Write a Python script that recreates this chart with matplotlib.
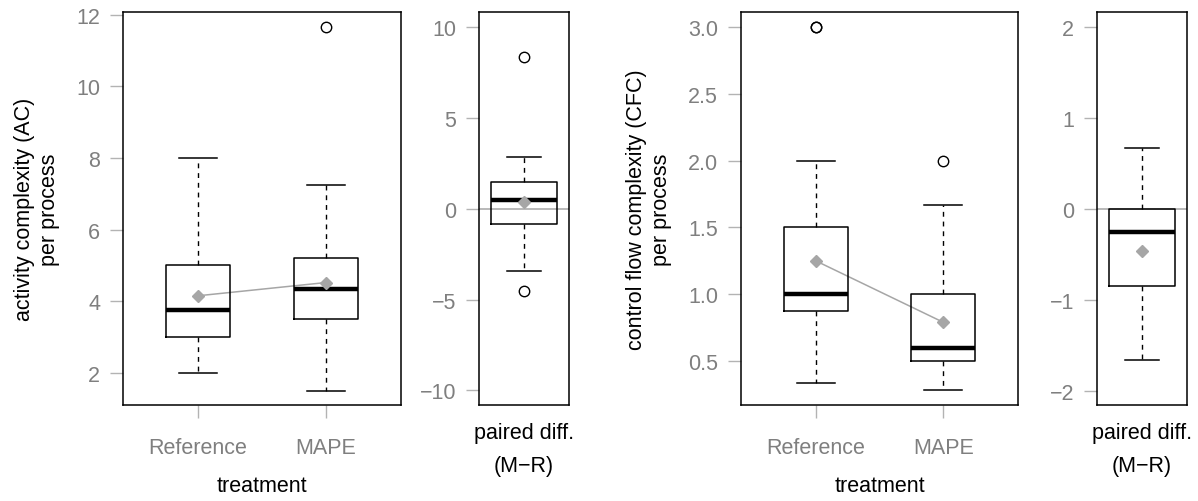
import matplotlib.pyplot as plt
import numpy as np

plt.rcParams['font.family'] = ['Liberation Sans', 'DejaVu Sans']
plt.rcParams['axes.unicode_minus'] = True

groups = ['Reference', 'MAPE']

# activity complexity (AC) per process
ac_whislo = [2.0, 1.5]
ac_q1 = [3.0, 3.5]
ac_med = [3.75, 4.33]
ac_q3 = [5.0, 5.2]
ac_whishi = [8.0, 7.25]
ac_mean = [4.15, 4.52]
ac_fliers = [[], [11.67]]

# paired difference AC (M-R)
acd_whislo = -3.4
acd_q1 = -0.82
acd_med = 0.5
acd_q3 = 1.47
acd_whishi = 2.85
acd_mean = 0.38
acd_fliers = [-4.5, 8.33]

# control flow complexity (CFC) per process
cfc_whislo = [0.333, 0.286]
cfc_q1 = [0.875, 0.5]
cfc_med = [1.0, 0.6]
cfc_q3 = [1.5, 1.0]
cfc_whishi = [2.0, 1.667]
cfc_mean = [1.25, 0.79]
cfc_fliers = [[3.0, 3.0], [2.0]]

# paired difference CFC (M-R)
cfcd_whislo = -1.667
cfcd_q1 = -0.85
cfcd_med = -0.25
cfcd_q3 = 0.0
cfcd_whishi = 0.667
cfcd_mean = -0.467
cfcd_fliers = []

TICK_GRAY = '#b3b3b3'
LABEL_GRAY = '#7f7f7f'
MEAN_GRAY = '#a6a6a6'
FS = 15.5

W, H = 1198, 502
fig = plt.figure(figsize=(W / 100, H / 100), dpi=100)


def add_ax(x0, x1, y0=13, y1=406):
    return fig.add_axes([x0 / W, (H - y1) / H, (x1 - x0) / W, (y1 - y0) / H])


def style(ax):
    for s in ax.spines.values():
        s.set_linewidth(1.1)
        s.set_color('black')
    ax.tick_params(direction='out', length=9.5, width=1.0, color=TICK_GRAY,
                   labelcolor=LABEL_GRAY, labelsize=FS, pad=7)
    ax.tick_params(axis='x', pad=13.5)


def draw_box(ax, stats, positions, width, capwidth, connect):
    ax.bxp(stats, positions=positions, widths=width, capwidths=capwidth,
           showmeans=True, manage_ticks=False,
           boxprops=dict(color='black', lw=1.1),
           medianprops=dict(color='black', lw=3.2, solid_capstyle='butt'),
           whiskerprops=dict(color='black', lw=1.0, linestyle=(0, (3.5, 3.5))),
           capprops=dict(color='black', lw=1.1),
           flierprops=dict(marker='o', markerfacecolor='none',
                           markeredgecolor='black', markersize=7.5, markeredgewidth=1.0),
           meanprops=dict(marker='D', markerfacecolor=MEAN_GRAY,
                          markeredgecolor=MEAN_GRAY, markersize=6))
    if connect:
        ax.plot(positions, [s['mean'] for s in stats], color=MEAN_GRAY, lw=1.1, zorder=1)


def make_stats(whislo, q1, med, q3, whishi, mean, fliers):
    return [dict(whislo=a, q1=b, med=c, q3=d, whishi=e, mean=f, fliers=g)
            for a, b, c, d, e, f, g in zip(whislo, q1, med, q3, whishi, mean, fliers)]


def main_panel(x0, x1, stats, ylim, yticks, ylabel, fmt=None):
    ax = add_ax(x0, x1)
    pos = np.arange(1, len(groups) + 1)
    draw_box(ax, stats, pos, 0.5, 0.3, True)
    ax.set_xlim(0.414, 2.586)
    ax.set_ylim(*ylim)
    ax.set_xticks(pos)
    ax.set_xticklabels(groups)
    ax.set_yticks(yticks)
    if fmt:
        ax.set_yticklabels([fmt.format(v) for v in yticks])
    ax.set_xlabel('treatment', fontsize=FS, labelpad=12)
    ax.set_ylabel(ylabel, fontsize=FS, labelpad=11.5, linespacing=1.27)
    style(ax)
    return ax


def diff_panel(x0, x1, stats, ylim, yticks):
    ax = add_ax(x0, x1)
    ax.axhline(0, color=TICK_GRAY, lw=1.3, zorder=0)
    draw_box(ax, stats, [1], 0.8, 0.4, False)
    ax.set_xlim(0.46, 1.54)
    ax.set_ylim(*ylim)
    ax.set_xticks([])
    ax.set_yticks(yticks)
    ax.set_xlabel('paired diff.\n(M\u2212R)', fontsize=FS, labelpad=12, linespacing=1.75)
    style(ax)
    return ax


ac_stats = make_stats(ac_whislo, ac_q1, ac_med, ac_q3, ac_whishi, ac_mean, ac_fliers)
acd_stats = make_stats([acd_whislo], [acd_q1], [acd_med], [acd_q3], [acd_whishi],
                       [acd_mean], [acd_fliers])
cfc_stats = make_stats(cfc_whislo, cfc_q1, cfc_med, cfc_q3, cfc_whishi, cfc_mean, cfc_fliers)
cfcd_stats = make_stats([cfcd_whislo], [cfcd_q1], [cfcd_med], [cfcd_q3], [cfcd_whishi],
                        [cfcd_mean], [cfcd_fliers])

main_panel(123, 401, ac_stats, (1.1, 12.075), [2, 4, 6, 8, 10, 12],
           'activity complexity (AC)\nper process')
diff_panel(479, 569, acd_stats, (-10.8, 10.83), [-10, -5, 0, 5, 10])
main_panel(741, 1018, cfc_stats, (0.171, 3.112), [0.5, 1.0, 1.5, 2.0, 2.5, 3.0],
           'control flow complexity (CFC)\nper process', fmt='{:.1f}')
diff_panel(1097, 1187, cfcd_stats, (-2.157, 2.165), [-2, -1, 0, 1, 2])

fig.savefig('out.png', dpi=100)
